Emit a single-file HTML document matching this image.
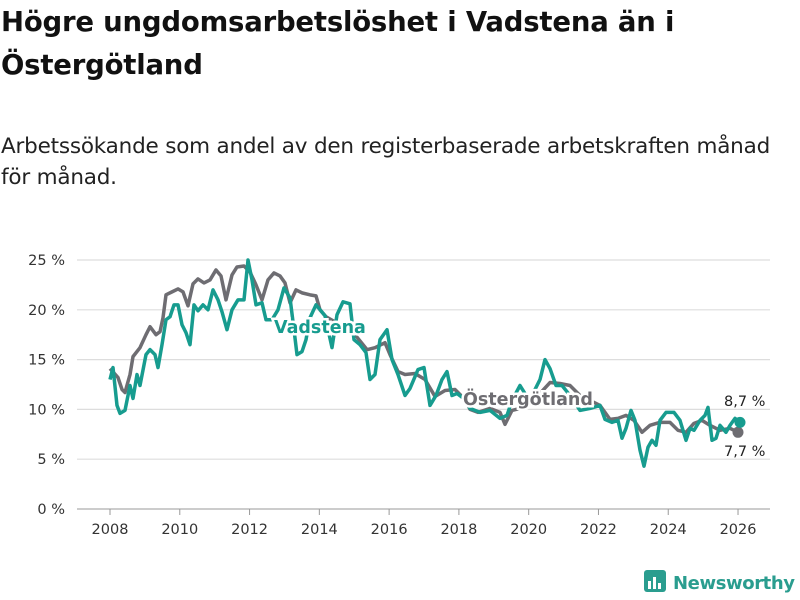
<!DOCTYPE html>
<html><head><meta charset="utf-8"><style>
body{margin:0;width:800px;height:600px;background:#fff;font-family:"DejaVu Sans","Liberation Sans",sans-serif;overflow:hidden;position:relative}
h1{position:absolute;left:1px;top:1px;margin:0;font-size:27.5px;line-height:43px;font-weight:bold;color:#111;width:798px;white-space:nowrap;letter-spacing:-0.2px}
.sub{position:absolute;left:1px;top:131px;font-size:21.5px;line-height:31px;color:#222;width:798px;white-space:nowrap;letter-spacing:-0.2px}
.logo{position:absolute;left:643px;top:569px;font-size:18px;font-weight:bold;color:#2a9d8f;white-space:nowrap;letter-spacing:-0.4px}
</style></head><body>
<h1>Högre ungdomsarbetslöshet i Vadstena än i<br>Östergötland</h1>
<div class="sub">Arbetssökande som andel av den registerbaserade arbetskraften månad<br>för månad.</div>
<svg id="chart" width="800" height="600" style="position:absolute;left:0;top:0"></svg>
<div class="logo"><svg width="24" height="24" style="vertical-align:-4px;margin-right:6px"><rect x="1" y="1" width="22" height="22" rx="3" fill="#2a9d8f"/><rect x="5" y="12" width="3" height="8" fill="#fff"/><rect x="10" y="8" width="3" height="12" fill="#fff"/><rect x="15" y="14" width="3" height="6" fill="#fff"/></svg>Newsworthy</div>
<script>
const yTicks=[0,5,10,15,20,25];
const xTicks=[2008,2010,2012,2014,2016,2018,2020,2022,2024,2026];
const ostX=[110,118,122,125,130,133,140,146,150,156,160,163,166,172,178,183,188,193,198,204,210,216,221,226,232,237,244,250,256,262,268,274,280,285,290,296,302,310,316,320,326,340,355,367,375,385,390,398,405,415,425,435,445,455,465,470,478,490,500,505,512,520,530,540,550,560,570,580,590,600,610,618,626,634,642,650,660,670,678,686,694,702,710,720,730,738];
const ostV=[14.1,13.2,12,11.7,13.5,15.3,16.2,17.5,18.3,17.5,17.8,19.2,21.5,21.8,22.1,21.8,20.4,22.6,23.1,22.7,23,24,23.4,21,23.5,24.3,24.4,23.8,22.5,21,23,23.7,23.4,22.7,20.7,22,21.7,21.5,21.4,20,19.3,18.5,17.5,16,16.2,16.7,15.5,13.8,13.5,13.6,13,11.3,11.9,12,11,10,9.7,10.1,9.7,8.5,9.9,10.1,11,11.6,12.7,12.6,12.4,11.4,10.9,10.4,9,9.1,9.4,8.9,7.7,8.4,8.7,8.7,7.9,7.7,8.6,8.9,8.4,7.9,8.1,7.7];
const vadX=[110,113,117,120,125,130,133,137,140,146,150,155,158,162,166,170,174,178,182,186,190,194,198,203,208,213,218,222,227,232,238,244,248,252,256,262,266,272,278,284,290,294,297,302,306,310,316,325,332,337,343,350,354,360,366,370,375,380,387,392,398,405,410,418,424,430,436,442,447,452,457,465,470,480,490,500,507,512,520,528,535,540,545,550,556,562,570,580,590,600,605,612,618,622,626,631,635,640,644,648,652,656,660,666,674,680,686,690,694,700,705,708,712,716,720,726,730,735,740];
const vadV=[13,14.2,10.4,9.6,9.9,12.4,11.1,13.5,12.4,15.5,16,15.5,14.2,16.5,19,19.3,20.5,20.5,18.5,17.7,16.5,20.5,19.9,20.5,20,22,21,19.8,18,20,21,21,25,23,20.5,20.7,19,19,20,22.2,21.2,18,15.5,15.8,17,19.2,20.5,19.4,16.2,19.5,20.8,20.6,17,16.5,15.7,13,13.5,17,18,15,13.5,11.4,12.1,14,14.2,10.4,11.4,13,13.8,11.4,11.6,11,10.1,9.7,9.9,9.1,9.4,10.9,12.4,11.1,12,13,15,14.1,12.4,12.4,11.4,9.9,10.1,10.4,9,8.7,8.9,7.1,8.1,9.9,8.9,5.9,4.3,6.2,6.9,6.4,8.9,9.7,9.7,8.9,6.9,8.1,7.9,8.9,9.4,10.2,6.9,7.1,8.4,7.7,8.4,9.1,8.7];
const NS='http://www.w3.org/2000/svg';
const svg=document.getElementById('chart');
const yS=v=>509-v*9.96;
const xS=yr=>110+(yr-2008)*34.89;
function mk(t,a){const e=document.createElementNS(NS,t);for(const k in a)e.setAttribute(k,a[k]);svg.appendChild(e);return e;}
yTicks.forEach(v=>{
 const l=mk('line',{x1:77,x2:770,y1:yS(v),y2:yS(v),stroke:v===0?'#bbb':'#ddd','stroke-width':v===0?1.5:1.2});
 
 
 const t=mk('text',{x:65,y:yS(v)+5,'text-anchor':'end','font-size':14.5,fill:'#333'});t.textContent=v+' %';
 
 
});
xTicks.forEach(y=>{
 const l=mk('line',{x1:xS(y),x2:xS(y),y1:509,y2:515,stroke:'#999'});
 
 
 const t=mk('text',{x:xS(y),y:534,'text-anchor':'middle','font-size':14.5,fill:'#333'});t.textContent=y;
 
 
});
function line(xs,vs,c,name){
 const d=xs.map((x,i)=>(i?'L':'M')+x+','+yS(vs[i])).join('');
 const p=mk('path',{d:d,fill:'none',stroke:c,'stroke-width':3.5,'stroke-linejoin':'round'});
 
 
 const dot=mk('circle',{cx:xs[xs.length-1],cy:yS(vs[vs.length-1]),r:5.5,fill:c});
 
 
}
line(ostX,ostV,'#6e6d72','ostergotland-line');
line(vadX,vadV,'#179c8f','vadstena-line');
function lab(x,y,txt,c,name,size,bold){
 const t=mk('text',{x:x,y:y,'font-size':size,'font-weight':bold?'bold':'normal',fill:c,stroke:'#fff','stroke-width':bold?5:0,'paint-order':'stroke'});t.textContent=txt;
 
 
}
lab(274,333,'Vadstena','#179c8f','vadstena-label',17.5,true);
lab(463,405,'Östergötland','#6e6d72','ostergotland-label',17.5,true);
lab(724,406,'8,7 %','#222','vadstena-end-value',14.5,false);
lab(724,456,'7,7 %','#222','ostergotland-end-value',14.5,false);
</script>
</body></html>
